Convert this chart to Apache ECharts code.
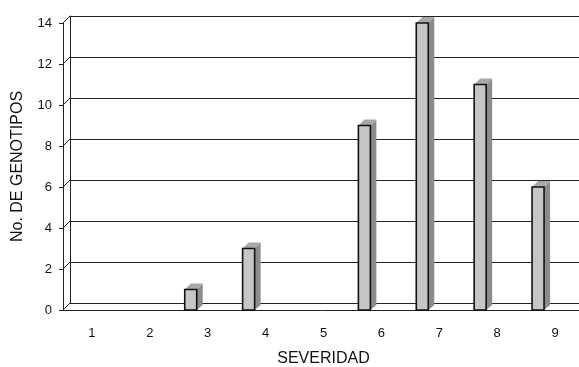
<!DOCTYPE html>
<html>
<head>
<meta charset="utf-8">
<script src="https://cdn.jsdelivr.net/npm/echarts@6/dist/echarts.min.js"></script>
<style>
  html, body { margin: 0; padding: 0; background: #fff; }
  #chart { width: 579px; height: 367px; }
</style>
</head>
<body>
<div id="chart"></div>
<script>
// categorias de severidad
const severidad = ['1', '2', '3', '4', '5', '6', '7', '8', '9'];
// numero de genotipos por categoria
const genotipos = [0, 0, 1, 3, 0, 9, 14, 11, 6];
// marcas del eje y
const yTicks = [0, 2, 4, 6, 8, 10, 12, 14];

const font = 'Liberation Sans, Arial, sans-serif';
const lineColor = '#222';
// profundidad del efecto 3D
const wallDepth = 7;
const barDepth = 6;

const chart = echarts.init(document.getElementById('chart'));

// dibuja una barra con cara frontal, superior y lateral
function renderBar(params, api) {
  const v = api.value(1);
  if (!v) return null;
  const top = api.coord([api.value(0), v]);
  const bot = api.coord([api.value(0), 0]);
  const x0 = top[0] - 23;
  const x1 = x0 + 12;
  const y0 = top[1];
  const y1 = bot[1];
  const d = barDepth;
  return {
    type: 'group',
    children: [
      {
        type: 'polygon',
        shape: { points: [[x1, y0], [x1 + d, y0 - d], [x1 + d, y1 - d + 1], [x1, y1]] },
        style: { fill: '#8c8c8c' }
      },
      {
        type: 'polygon',
        shape: { points: [[x0, y0], [x0 + d, y0 - d], [x1 + d, y0 - d], [x1, y0]] },
        style: { fill: '#a8a8a8' }
      },
      {
        type: 'rect',
        shape: { x: x0, y: y0, width: x1 - x0, height: y1 - y0 },
        style: { fill: '#c6c6c6', stroke: '#111', lineWidth: 1.6 }
      }
    ]
  };
}

// diagonales entre el eje y frontal y la pared del fondo
function renderDiag(params, api) {
  const p = api.coord([0, api.value(1)]);
  const x = params.coordSys.x;
  return {
    type: 'line',
    shape: { x1: x, y1: p[1], x2: x + wallDepth, y2: p[1] - wallDepth },
    style: { stroke: lineColor, lineWidth: 1 }
  };
}

const option = {
  animation: false,
  backgroundColor: '#fff',
  grid: [
    { left: 63, top: 23, width: 521, height: 287, outerBoundsMode: 'none' },
    { left: 63 + wallDepth, top: 23 - wallDepth, width: 521, height: 287, outerBoundsMode: 'none' }
  ],
  xAxis: [
    {
      gridIndex: 0,
      type: 'category',
      data: severidad,
      name: 'SEVERIDAD',
      nameLocation: 'middle',
      nameGap: 41,
      nameTextStyle: { fontFamily: font, fontSize: 16, color: '#111' },
      axisLine: { lineStyle: { color: lineColor, width: 1 } },
      axisTick: { length: 6, lineStyle: { color: lineColor } },
      axisLabel: { fontFamily: font, fontSize: 13, color: '#111', margin: 17 }
    },
    {
      gridIndex: 1,
      type: 'category',
      data: severidad,
      axisLine: { lineStyle: { color: lineColor, width: 1 } },
      axisTick: { show: false },
      axisLabel: { show: false }
    }
  ],
  yAxis: [
    {
      gridIndex: 0,
      type: 'value',
      min: 0,
      max: 14,
      interval: 2,
      name: 'No. DE GENOTIPOS',
      nameLocation: 'middle',
      nameGap: 37,
      nameTextStyle: { fontFamily: font, fontSize: 16, color: '#111' },
      axisLine: { show: true, lineStyle: { color: lineColor, width: 1 } },
      axisTick: { show: true, length: 4, lineStyle: { color: lineColor } },
      axisLabel: { fontFamily: font, fontSize: 13, color: '#111', margin: 11 },
      splitLine: { show: false }
    },
    {
      gridIndex: 1,
      type: 'value',
      min: 0,
      max: 14,
      interval: 2,
      axisLine: { show: true, lineStyle: { color: lineColor, width: 1 } },
      axisTick: { show: false },
      axisLabel: { show: false },
      splitLine: { show: true, lineStyle: { color: lineColor, width: 1 } }
    }
  ],
  series: [
    {
      type: 'custom',
      xAxisIndex: 0,
      yAxisIndex: 0,
      renderItem: renderDiag,
      data: yTicks.map(v => [0, v]),
      silent: true,
      z: 1
    },
    {
      type: 'custom',
      xAxisIndex: 0,
      yAxisIndex: 0,
      renderItem: renderBar,
      data: genotipos.map((v, i) => [i, v]),
      z: 3
    }
  ]
};

chart.setOption(option);
</script>
</body>
</html>
